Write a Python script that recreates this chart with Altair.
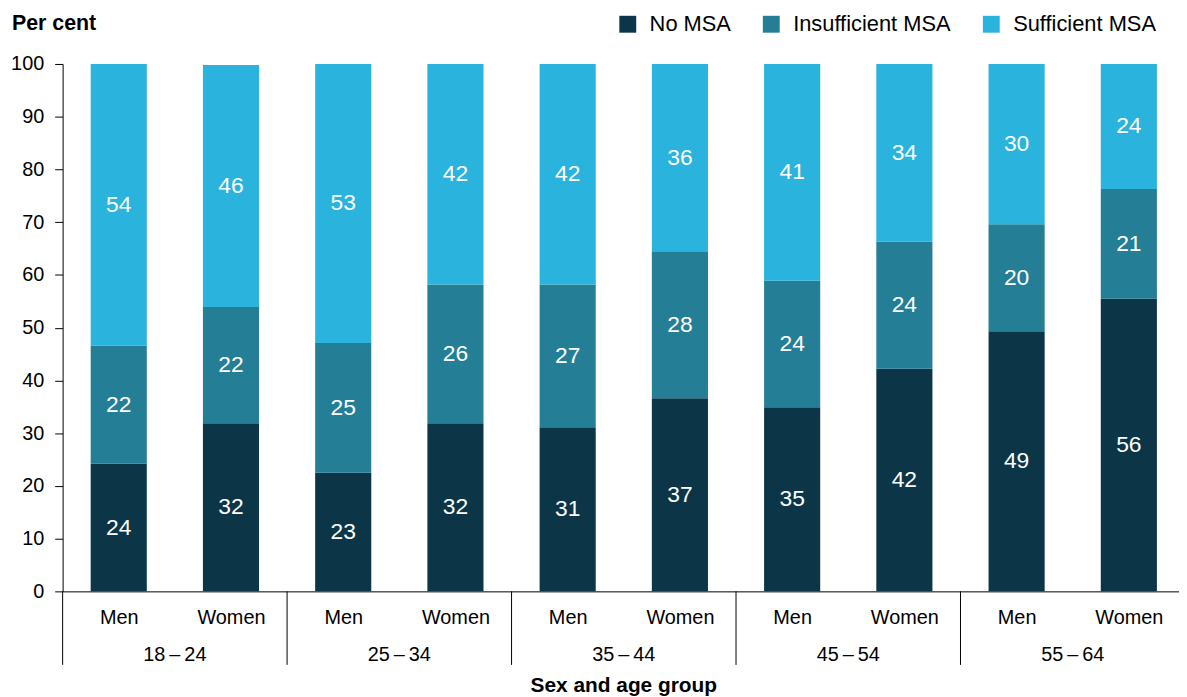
import altair as alt
import pandas as pd

# ---- data ----
age_groups = ["18\u2009\u2013\u200924", "25\u2009\u2013\u200934", "35\u2009\u2013\u200944", "45\u2009\u2013\u200954", "55\u2009\u2013\u200964"]
sexes = ["Men", "Women"]
series = ["No MSA", "Insufficient MSA", "Sufficient MSA"]

no_msa = [24.2, 31.9, 22.5, 31.9, 31.1, 36.6, 34.9, 42.2, 49.3, 55.5]
insufficient = [22.4, 22.0, 24.6, 26.3, 27.1, 27.9, 24.0, 24.1, 20.3, 20.8]
sufficient = [53.4, 45.9, 52.9, 41.8, 41.8, 35.5, 41.1, 33.7, 30.4, 23.7]

labels_no = [24, 32, 23, 32, 31, 37, 35, 42, 49, 56]
labels_ins = [22, 22, 25, 26, 27, 28, 24, 24, 20, 21]
labels_suf = [54, 46, 53, 42, 42, 36, 41, 34, 30, 24]

colors = ["#0c3648", "#237e96", "#29b3dd"]

# ---- build tables ----
rows = []
for i in range(10):
    base = 0.0
    for s, vals, labs in zip(series, [no_msa, insufficient, sufficient], [labels_no, labels_ins, labels_suf]):
        v = vals[i]
        rows.append({
            "pos": i,
            "x0": i + 0.25,
            "x1": i + 0.75,
            "xc": i + 0.5,
            "sex": sexes[i % 2],
            "group": age_groups[i // 2],
            "series": s,
            "y0": base,
            "y1": base + v,
            "mid": base + v / 2,
            "label": str(labs[i]),
        })
        base += v
df = pd.DataFrame(rows)

sep_df = pd.DataFrame({"x": [0, 2, 4, 6, 8]})
grp_df = pd.DataFrame({"x": [1, 3, 5, 7, 9], "group": age_groups})
title_df = pd.DataFrame({"x": [5], "t": ["Sex and age group"]})

FONT = "Liberation Sans"
W, H = 1124, 531
xscale = alt.Scale(domain=[0, W / 113.0], nice=False, zero=False)
yscale = alt.Scale(domain=[0, 100], nice=False)

bars = alt.Chart(df).mark_bar(stroke=None).encode(
    x=alt.X("x0:Q", scale=xscale,
            axis=alt.Axis(values=[i + 0.5 for i in range(10)],
                          labelExpr="floor(datum.value) % 2 == 0 ? 'Men' : 'Women'",
                          ticks=False, grid=False, title=None,
                          labelFontSize=20, labelFont=FONT, labelColor="#000000",
                          labelPadding=16, labelFlush=False, labelOverlap=False,
                          domainColor="#000000", domainWidth=1)),
    x2="x1:Q",
    y=alt.Y("y0:Q", scale=yscale,
            axis=alt.Axis(values=list(range(0, 101, 10)), grid=False, title=None,
                          tickSize=8, tickColor="#000000", tickWidth=1,
                          labelFontSize=20, labelFont=FONT, labelColor="#000000",
                          labelPadding=11, domainColor="#000000", domainWidth=1)),
    y2="y1:Q",
    color=alt.Color("series:N", scale=alt.Scale(domain=series, range=colors),
                    sort=series,
                    legend=alt.Legend(title=None, orient="none", legendX=558, legendY=-51,
                                      direction="horizontal", symbolType="square",
                                      symbolSize=289, symbolStrokeWidth=0,
                                      labelFontSize=22, labelFont=FONT, labelColor="#000000",
                                      labelOffset=11, columnPadding=29.5, padding=0,
                                      labelLimit=400)),
)

values = alt.Chart(df).mark_text(color="white", fontSize=23, font=FONT, baseline="middle", align="center").encode(
    x=alt.X("xc:Q", scale=xscale),
    y=alt.Y("mid:Q", scale=yscale),
    text="label:N",
)

seps = alt.Chart(sep_df).mark_rule(color="#000000", strokeWidth=1).encode(
    x=alt.X("x:Q", scale=xscale),
    y=alt.datum(0, scale=yscale),
    y2=alt.value(H + 74),
)

grp_text = alt.Chart(grp_df).mark_text(fontSize=20, font=FONT, color="#000000", baseline="middle", align="center").encode(
    x=alt.X("x:Q", scale=xscale),
    y=alt.value(H + 64),
    text="group:N",
)

xtitle = alt.Chart(title_df).mark_text(fontSize=21, font=FONT, fontWeight="bold", color="#000000",
                                      baseline="middle", align="center").encode(
    x=alt.X("x:Q", scale=xscale),
    y=alt.value(H + 95),
    text="t:N",
)

ytitle = alt.Chart(title_df).mark_text(fontSize=21.5, font=FONT, fontWeight="bold", color="#000000",
                                      baseline="middle", align="left", text="Per cent").encode(
    x=alt.value(-51),
    y=alt.value(-40),
)

chart = alt.layer(bars, values, seps, grp_text, xtitle, ytitle).properties(
    width=W, height=H,
    autosize=alt.AutoSizeParams(type="none"),
    padding={"left": 55, "top": 54, "right": 0, "bottom": 104},
).configure(font=FONT).configure_view(stroke=None)

chart.save("out.html", embed_options={"renderer": "svg", "actions": False})
